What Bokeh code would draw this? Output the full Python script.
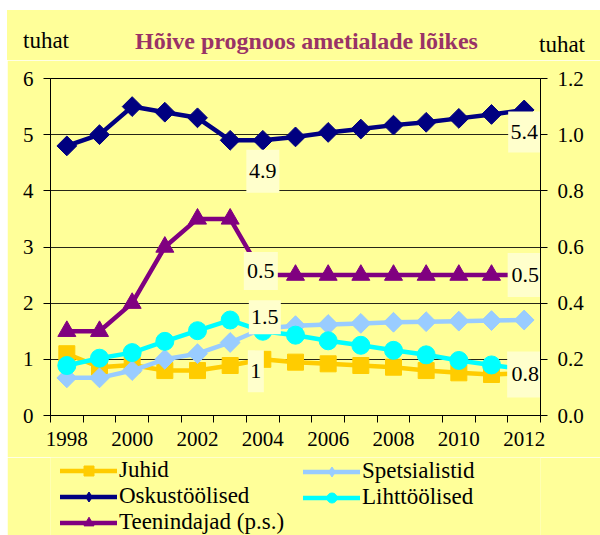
from bokeh.plotting import figure
from bokeh.models import (Range1d, LinearAxis, FixedTicker, NumeralTickFormatter,
                          Legend, LegendItem, Label, Div)
from bokeh.layouts import column
from bokeh.embed import file_html
from bokeh.resources import INLINE
import math

years = list(range(1998, 2013))
juhid = [1.1, 0.86, 0.9, 0.8, 0.8, 0.89, 1.0, 0.95, 0.92, 0.89, 0.86, 0.8, 0.76, 0.73, 0.75]
spetsialistid = [0.67, 0.67, 0.8, 1.0, 1.1, 1.3, 1.55, 1.6, 1.62, 1.64, 1.66, 1.67, 1.68, 1.69, 1.7]
oskustoolised = [4.8, 5.0, 5.5, 5.4, 5.3, 4.9, 4.9, 4.96, 5.04, 5.1, 5.17, 5.22, 5.29, 5.36, 5.44]
lihttoolised = [0.89, 1.02, 1.12, 1.32, 1.51, 1.7, 1.5, 1.43, 1.33, 1.25, 1.16, 1.08, 0.98, 0.9, 0.82]
teenindajad = [0.3, 0.3, 0.4, 0.6, 0.7, 0.7, 0.5, 0.5, 0.5, 0.5, 0.5, 0.5, 0.5, 0.5, 0.5]

left_ticks = [0, 1, 2, 3, 4, 5, 6]
right_ticks = [0.0, 0.2, 0.4, 0.6, 0.8, 1.0, 1.2]
year_labels = [1998, 2000, 2002, 2004, 2006, 2008, 2010, 2012]

title_text = "Hõive prognoos ametialade lõikes"
unit_text = "tuhat"

SERIF = "Liberation Serif"
BG = "#FFFF99"
BOX = "#FFFFCC"

W = 593
TOP_H = 50
MAIN_H = 397
LEG_H = 78
BL, BR, BT, BB = 43, 60, 18, 42
FW = W - BL - BR
FH = MAIN_H - BT - BB

# ---------------- header (title + unit texts) ----------------
header_html = (
    f'<div style="position:relative;width:{W}px;height:{TOP_H}px;background:{BG};'
    f"font-family:'Liberation Serif',serif;color:black;overflow:hidden;\">"
    f'<span style="position:absolute;left:16px;top:19px;font-size:23px;line-height:23px;white-space:nowrap;">{unit_text}</span>'
    f'<span style="position:absolute;left:128px;top:19px;font-size:24px;line-height:24px;'
    f'font-weight:bold;color:#993366;white-space:nowrap;">{title_text}</span>'
    f'<span style="position:absolute;left:532px;top:23px;font-size:23px;line-height:23px;white-space:nowrap;">{unit_text}</span>'
    '</div>'
)
header = Div(text=header_html, width=W, height=TOP_H, margin=0,
             styles={"background-color": BG, "overflow": "hidden"})

# ---------------- main chart ----------------
x0, x1 = years[0] - 0.5, years[-1] + 0.5
p = figure(width=W, height=MAIN_H, output_backend="svg", toolbar_location=None,
           x_range=Range1d(x0, x1), y_range=Range1d(left_ticks[0], left_ticks[-1]),
           min_border_left=BL, min_border_right=BR, min_border_top=BT, min_border_bottom=BB,
           margin=0)
p.background_fill_color = BG
p.border_fill_color = BG
p.outline_line_color = "black"
p.outline_line_width = 1
p.extra_y_ranges = {"right": Range1d(right_ticks[0], right_ticks[-1])}

p.xaxis.ticker = FixedTicker(ticks=year_labels,
                             minor_ticks=[y - 0.5 for y in years] + [years[-1] + 0.5])
p.xaxis.major_tick_out = 0
p.xaxis.major_tick_in = 0
p.xaxis.minor_tick_out = 7
p.xaxis.minor_tick_in = 0
p.xaxis.minor_tick_line_color = "black"
p.xaxis.axis_line_color = "black"
p.xaxis.major_label_text_font = SERIF
p.xaxis.major_label_text_font_size = "21px"
p.xaxis.major_label_text_color = "black"
p.xaxis.major_label_standoff = 9
p.xgrid.visible = False

p.yaxis.ticker = FixedTicker(ticks=left_ticks)
p.yaxis.major_tick_out = 7
p.yaxis.major_tick_in = 0
p.yaxis.minor_tick_line_color = None
p.yaxis.axis_line_color = "black"
p.yaxis.major_tick_line_color = "black"
p.yaxis.major_label_text_font = SERIF
p.yaxis.major_label_text_font_size = "21px"
p.yaxis.major_label_text_color = "black"
p.yaxis.major_label_standoff = 10
p.ygrid.ticker = FixedTicker(ticks=left_ticks)
p.ygrid.grid_line_color = "black"
p.ygrid.grid_line_alpha = 0.85
p.ygrid.grid_line_width = 1

ra = LinearAxis(y_range_name="right", ticker=FixedTicker(ticks=right_ticks),
                formatter=NumeralTickFormatter(format="0.0"))
ra.major_tick_out = 7
ra.major_tick_in = 0
ra.minor_tick_line_color = None
ra.axis_line_color = "black"
ra.major_tick_line_color = "black"
ra.major_label_text_font = SERIF
ra.major_label_text_font_size = "21px"
ra.major_label_text_color = "black"
ra.major_label_standoff = 10
p.add_layout(ra, "right")

LW = 4.5
# name, values, colour, chart marker, size, angle, legend marker, legend size, y-range
series = [
    ("Juhid", juhid, "#FFCC00", "square", 16, 0, "square", 14, None),
    ("Spetsialistid", spetsialistid, "#99CCFF", "square", 14, math.pi / 4, "diamond", 21, None),
    ("Oskustöölised", oskustoolised, "#000080", "square", 14, math.pi / 4, "diamond", 21, None),
    ("Lihttöölised", lihttoolised, "#00FFFF", "circle", 18, 0, "circle", 16, None),
    ("Teenindajad (p.s.)", teenindajad, "#800080", "triangle", 18, 0, "triangle", 17, "right"),
]

for name, vals, col, marker, size, ang, lmarker, lsize, rng in series:
    kw = {"y_range_name": rng} if rng else {}
    p.line(years, vals, line_color=col, line_width=LW, line_cap="round",
           line_join="round", **kw)
    p.scatter(years, vals, marker=marker, size=size, angle=ang,
              fill_color=col, line_color=col, **kw)

# ---------------- data labels ----------------
px_per_x = FW / (x1 - x0)
px_per_left = FH / (left_ticks[-1] - left_ticks[0])
px_per_right = FH / (right_ticks[-1] - right_ticks[0])

# (series values, year, y-range, x_offset, y_offset, box width, box height)
label_specs = [
    (oskustoolised, 2004, None, 0, -31, 33, 43),
    (oskustoolised, 2012, None, 0, -22, 32, 41),
    (teenindajad, 2004, "right", -2, 4, 34, 38),
    (teenindajad, 2012, "right", 1, 0, 35, 44),
    (lihttoolised, 2004, None, 2, 14, 32, 34),
    (juhid, 2004, None, -7, -12, 16, 42),
    (juhid, 2012, None, 1, -1, 36, 46),
]
for vals, yr, rng, dx, dy, bw, bh in label_specs:
    v = vals[years.index(yr)]
    txt = f"{v:.1f}"
    if txt.endswith(".0"):
        txt = txt[:-2]
    kw = {"y_range_name": rng} if rng else {}
    ppy = px_per_right if rng else px_per_left
    p.rect(x=[yr + dx / px_per_x], y=[v + dy / ppy], width=bw, height=bh,
           width_units="screen", height_units="screen",
           fill_color=BOX, line_color=None, **kw)
    p.add_layout(Label(x=yr, y=v, text=txt, x_offset=dx, y_offset=dy,
                       text_align="center", text_baseline="middle",
                       text_font=SERIF, text_font_size="22px", text_color="black", **kw))

# ---------------- legend strip ----------------
# the series are drawn again here only so the legend has renderers; the
# strip's ranges keep them out of view.
lf = figure(width=W, height=LEG_H, output_backend="svg", toolbar_location=None,
            x_range=Range1d(0, 1), y_range=Range1d(-10, -9),
            min_border_left=BL, min_border_right=BR, min_border_top=0, min_border_bottom=0,
            margin=0)
lf.axis.visible = False
lf.grid.visible = False
lf.outline_line_color = None
lf.background_fill_color = BG
lf.border_fill_color = BG

items = {}
for name, vals, col, marker, size, ang, lmarker, lsize, rng in series:
    lr = lf.line(years, vals, line_color=col, line_width=LW, line_cap="round")
    sr = lf.scatter(years, vals, marker=lmarker, size=lsize,
                    fill_color=col, line_color=col)
    items[name] = LegendItem(label=name, renderers=[lr, sr])

def make_legend(names, loc):
    lg = Legend(items=[items[n] for n in names], location=loc, orientation="vertical",
                padding=0, margin=0, spacing=0, label_height=25, glyph_height=25,
                glyph_width=57, label_standoff=2, border_line_alpha=0,
                background_fill_alpha=0, label_text_font=SERIF,
                label_text_font_size="23px", label_text_color="black")
    lf.add_layout(lg)

make_legend(["Juhid", "Oskustöölised", "Teenindajad (p.s.)"], (10, 0))
make_legend(["Spetsialistid", "Lihttöölised"], (253, 25))

layout = column(header, p, lf, spacing=0, margin=(10, 0, 0, 7))
open("out.html", "w").write(file_html(layout, INLINE))
